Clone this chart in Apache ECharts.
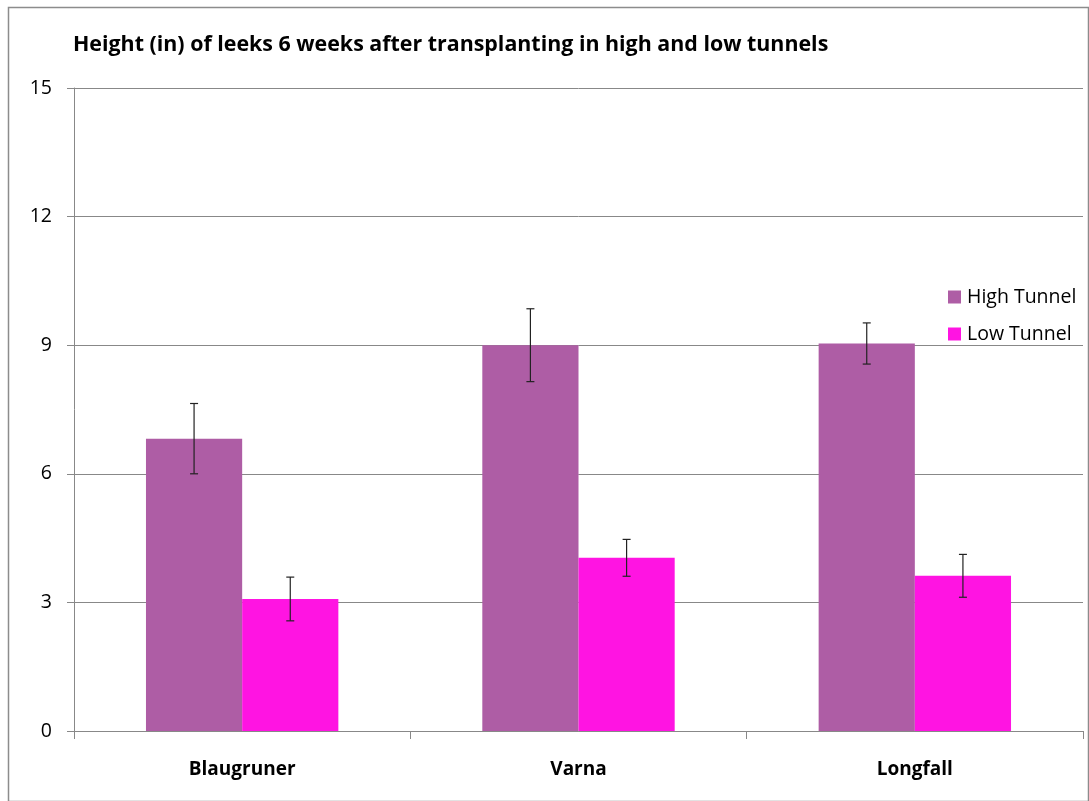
<!DOCTYPE html>
<html><head><meta charset="utf-8">
<script src="https://cdn.jsdelivr.net/npm/echarts@6/dist/echarts.min.js"></script>
<style>html,body{margin:0;padding:0;background:#fff}#c{width:1089px;height:801px}</style>
</head><body><div id="c"></div>
<script>
const categories = ['Blaugruner', 'Varna', 'Longfall'];
const highTunnel = [6.82, 9.0, 9.04];
const highErr = [0.82, 0.85, 0.48];
const lowTunnel = [3.08, 4.04, 3.62];
const lowErr = [0.51, 0.43, 0.5];
const yTicks = [0, 3, 6, 9, 12, 15];

const FONT = '"Open Sans", "Noto Sans", sans-serif';
const BAR_FRAC = 0.286;

function errSeries(vals, errs, side) {
  return {
    type: 'custom',
    z: 10,
    silent: true,
    data: vals.map((v, i) => [i, v - errs[i], v + errs[i]]),
    renderItem: function (params, api) {
      const i = api.value(0);
      const lo = api.coord([i, api.value(1)]);
      const hi = api.coord([i, api.value(2)]);
      const band = api.size([1, 0])[0];
      const x = lo[0] + side * band * BAR_FRAC / 2;
      const cap = 4;
      const st = { stroke: '#222', lineWidth: 1.2 };
      return {
        type: 'group',
        children: [
          { type: 'line', shape: { x1: x, y1: lo[1], x2: x, y2: hi[1] }, style: st },
          { type: 'line', shape: { x1: x - cap, y1: lo[1], x2: x + cap, y2: lo[1] }, style: st },
          { type: 'line', shape: { x1: x - cap, y1: hi[1], x2: x + cap, y2: hi[1] }, style: st }
        ]
      };
    }
  };
}

const chart = echarts.init(document.getElementById('c'));
chart.setOption({
  animation: false,
  backgroundColor: '#fff',
  title: {
    text: 'Height (in) of leeks 6 weeks after transplanting in high and low tunnels',
    left: 68, top: 29,
    textStyle: { fontFamily: FONT, fontSize: 21.4, fontWeight: 'bold', color: '#000' }
  },
  legend: {
    orient: 'vertical',
    left: 943, top: 282,
    itemWidth: 13, itemHeight: 13, itemGap: 17,
    icon: 'rect',
    data: ['High Tunnel', 'Low Tunnel'],
    textStyle: { fontFamily: FONT, fontSize: 19.5, color: '#000', padding: [0, 0, 0, 1] }
  },
  graphic: [{
    type: 'rect', left: 6, top: 5, silent: true, z: -1,
    shape: { width: 1080, height: 794 },
    style: { fill: 'none', stroke: '#8c8c8c', lineWidth: 1.5 }
  }],
  grid: { left: 74, right: 6, top: 88, bottom: 70 },
  xAxis: {
    type: 'category',
    data: categories,
    axisLine: { lineStyle: { color: '#888', width: 1 } },
    axisTick: { show: true, length: 8, lineStyle: { color: '#888' } },
    axisLabel: { fontFamily: FONT, fontSize: 19, fontWeight: 'bold', color: '#000', margin: 29 }
  },
  yAxis: {
    type: 'value',
    min: 0, max: 15, interval: 3,
    axisLine: { show: true, lineStyle: { color: '#888', width: 1 } },
    axisTick: { show: true, length: 7, lineStyle: { color: '#888' } },
    splitLine: { lineStyle: { color: '#888', width: 1 } },
    axisLabel: { fontFamily: FONT, fontSize: 19.5, color: '#000', margin: 22,
      formatter: v => yTicks.includes(v) ? String(v) : '' }
  },
  series: [
    { name: 'High Tunnel', type: 'bar', data: highTunnel, barWidth: (BAR_FRAC * 100) + '%', barGap: '0%',
      itemStyle: { color: '#AE5DA5' } },
    { name: 'Low Tunnel', type: 'bar', data: lowTunnel, barWidth: (BAR_FRAC * 100) + '%', barGap: '0%',
      itemStyle: { color: '#FF14E2' } },
    errSeries(highTunnel, highErr, -1),
    errSeries(lowTunnel, lowErr, 1)
  ]
});
</script>
</body></html>
